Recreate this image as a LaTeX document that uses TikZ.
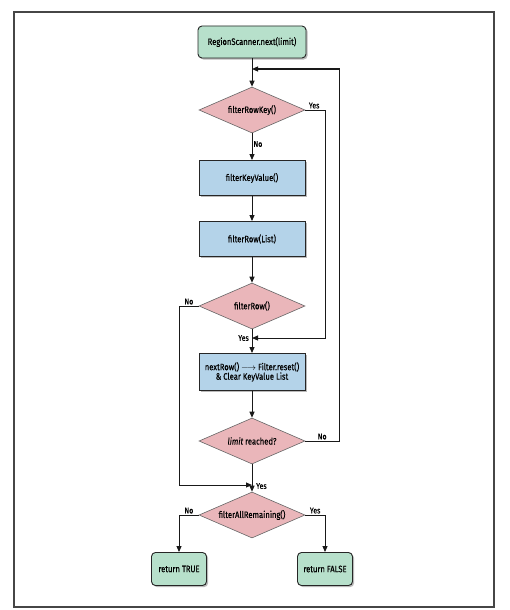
\documentclass[tikz,border=0pt]{standalone}
\usepackage{fontspec}
\setmainfont{Fira Sans}[FakeStretch=0.82,FakeBold=0.4,ItalicFont={Fira Sans Italic}]
\usetikzlibrary{shapes.geometric,arrows.meta,shadows}
\definecolor{termfill}{RGB}{183,224,203}
\definecolor{decfill}{RGB}{234,182,186}
\definecolor{procfill}{RGB}{180,211,233}
\definecolor{framecol}{RGB}{70,70,70}
\begin{document}
\begin{tikzpicture}[x=1pt,y=-1pt,font=\fontsize{9.3}{10.5}\selectfont,
  shadowed/.style={drop shadow={shadow xshift=1.6pt,shadow yshift=-1.6pt,fill=black!45,opacity=0.6}},
  term/.style={draw=black!85,line width=0.9pt,rounded corners=4pt,fill=termfill,shadowed,
    minimum height=32pt,align=center,inner sep=2pt},
  proc/.style={draw=black!85,line width=0.9pt,fill=procfill,shadowed,
    minimum width=106pt,minimum height=35pt,align=center,inner sep=2pt},
  dec/.style={draw=black!60,line width=0.6pt,fill=decfill,diamond,aspect=2.3,
    minimum width=106pt,minimum height=46pt,inner sep=0pt},
  conn/.style={draw=black!90,line width=1pt},
  arr/.style={conn,-{Triangle[length=6pt,width=5pt]}},
  lbl/.style={font=\fontsize{8.5}{9}\selectfont,inner sep=1pt}]
\useasboundingbox (0,0) rectangle (509,610);
\fill[white] (0,0) rectangle (509,610);
\draw[framecol,line width=1.1pt] (14,12) rectangle (494,607);

\node[term,minimum width=108pt] (start) at (252,42) {RegionScanner.next(limit)};
\node[dec] (d1) at (252,110) {filterRowKey()};
\node[proc] (p1) at (252,178) {filterKeyValue()};
\node[proc] (p2) at (252,239) {filterRow(List)};
\node[dec] (d2) at (252,306) {filterRow()};
\node[proc,minimum height=37pt] (p3) at (252,372) {nextRow() $\longrightarrow$ Filter.reset()\\[-1pt] \& Clear KeyValue List};
\node[dec] (d3) at (252,441) {\textit{limit} reached?};
\node[dec] (d4) at (252,515) {filterAllRemaining()};
\node[term,minimum width=55pt,minimum height=33pt] (rt) at (179,569) {return TRUE};
\node[term,minimum width=55pt,minimum height=33pt] (rf) at (325,569) {return FALSE};

\coordinate (loopin) at (252,69);
\coordinate (yesin) at (252,338);
\coordinate (noin) at (252,485);

% main spine
\draw[arr] (start) -- (d1);
\draw[arr] (d1) -- node[lbl,right,pos=0.4]{No} (p1);
\draw[arr] (p1) -- (p2);
\draw[arr] (p2) -- (d2);
\draw[arr] (d2) -- (p3);
\draw[arr] (p3) -- (d3);
\draw[arr] (d3) -- (d4);
\node[lbl,anchor=east] at (250,338) {Yes};
\node[lbl,anchor=west] at (255,486) {Yes};

% filterRowKey Yes -> skip to nextRow
\draw[arr] (d1.east) -- node[lbl,above,pos=0.45]{Yes} (325,110) -- (325,338) -- (yesin);
% filterRow No -> to filterAllRemaining
\draw[arr] (d2.west) -- node[lbl,above,pos=0.5]{No} (179,306) -- (179,485) -- (noin);
% limit reached No -> loop back
\draw[arr] (d3.east) -- node[lbl,above,pos=0.5]{No} (339,441) -- (339,69) -- (loopin);
% filterAllRemaining branches
\draw[arr] (d4.west) -- node[lbl,above,pos=0.5]{No} (rt.north |- d4.west) -- (rt.north);
\draw[arr] (d4.east) -- node[lbl,above,pos=0.5]{Yes} (rf.north |- d4.east) -- (rf.north);
\end{tikzpicture}
\end{document}
